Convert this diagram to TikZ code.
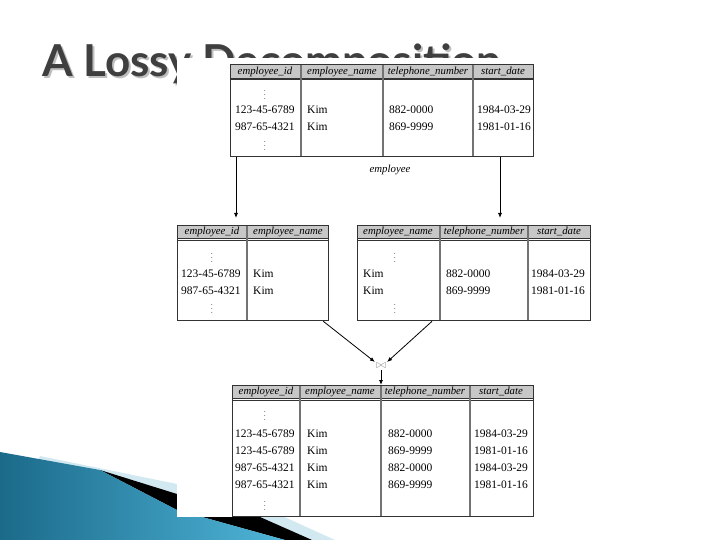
\documentclass[tikz,border=0pt]{standalone}
\usepackage{fontspec}
\newfontfamily\titlefont{Lato}
\newfontfamily\relfont{Liberation Serif}
\usepackage{tikz}
\usetikzlibrary{arrows.meta, positioning}
\definecolor{swooshdark}{HTML}{1B6A8A}
\definecolor{swooshlight}{HTML}{4FB5D8}
\definecolor{swooshpale}{HTML}{D3E9F1}
\definecolor{titlegray}{HTML}{3F3F3F}
\tikzset{
  relbox/.style={draw=black!80, line width=1.3pt, inner sep=0pt, anchor=north west},
  headbar/.style={fill=black!22, draw=black!80, line width=0.9pt},
  colline/.style={draw=black!55, line width=1.2pt},
  headtext/.style={font=\relfont\itshape\fontsize{10.8}{12}\selectfont, inner sep=0pt},
  celltext/.style={font=\relfont\fontsize{11.5}{13}\selectfont, anchor=west, inner sep=0pt},
  vdots/.style={font=\fontsize{9}{10}\selectfont, inner sep=0pt},
  arrow/.style={-{Latex[length=5pt, width=4pt]}, line width=0.8pt},
}

\begin{document}
\begin{tikzpicture}[x=1pt, y=-1pt]
  \useasboundingbox (0,0) rectangle (720,540);

  % slide swoosh, bottom left
  \fill[swooshpale] (40,456) -- (177,484) -- (280,515) -- (335,540) -- (0,540) -- cycle;
  \fill[black] (100,470) -- (177,494) -- (260,517) -- (312,540) -- (285,540) -- (177,510) -- cycle;
  \shade[left color=swooshdark, right color=swooshlight]
    (0,452) -- (100,470) -- (177,510) -- (285,540) -- (0,540) -- cycle;

  % title
  \node[anchor=base west, inner sep=0pt, text=black!25, font=\titlefont\bfseries\fontsize{44}{50}\selectfont]
    (shadow) at (44,79) {A Lossy Decomposition};
  \node[anchor=base west, inner sep=0pt, text=titlegray, font=\titlefont\bfseries\fontsize{44}{50}\selectfont]
    (title) at (42,77) {A Lossy Decomposition};

  % the picture's white area
  \fill[white] (177,58) rectangle (600,517);

  % employee
  \draw[headbar] (230,64) rectangle (533,78);
  \draw[black!80, line width=1pt] (230,80) -- (533,80);
  \foreach \x in {301,383,473} \draw[colline] (\x,64) -- (\x,156);
  \node[relbox, minimum width=303pt, minimum height=92pt] (emp) at (230,64) {};
  \foreach \x/\t [count=\i] in {265/employee\_id, 342/employee\_name, 428/telephone\_number, 503/start\_date}
    \node[headtext] (empH\i) at (\x,71.5) {\t};
  \node[vdots] (empD1) at (265,92) {$\vdots$};
  \node[vdots] (empD2) at (265,143) {$\vdots$};
  \foreach \y/\a/\b/\c/\d [count=\i] in {110/123-45-6789/Kim/882-0000/1984-03-29, 127/987-65-4321/Kim/869-9999/1981-01-16} {
    \node[celltext] (empA\i) at (235,\y) {\a};
    \node[celltext] (empB\i) at (307,\y) {\b};
    \node[celltext] (empC\i) at (389,\y) {\c};
    \node[celltext] (empE\i) at (477,\y) {\d};
  }
  \node[headtext] (empName) at (390,170) {employee};

  % left projection
  \draw[headbar] (177,225) rectangle (328,238);
  \draw[black!80, line width=1pt] (177,240) -- (328,240);
  \draw[colline] (247,225) -- (247,320);
  \node[relbox, minimum width=151pt, minimum height=95pt] (projA) at (177,225) {};
  \foreach \x/\t [count=\i] in {212/employee\_id, 288/employee\_name}
    \node[headtext] (projAH\i) at (\x,231.5) {\t};
  \node[vdots] (projAD1) at (212,255) {$\vdots$};
  \node[vdots] (projAD2) at (212,306) {$\vdots$};
  \foreach \y/\a [count=\i] in {274/123-45-6789, 291/987-65-4321} {
    \node[celltext] (projAA\i) at (181,\y) {\a};
    \node[celltext] (projAB\i) at (253,\y) {Kim};
  }

  % right projection
  \draw[headbar] (357,225) rectangle (590,238);
  \draw[black!80, line width=1pt] (357,240) -- (590,240);
  \foreach \x in {440,528} \draw[colline] (\x,225) -- (\x,320);
  \node[relbox, minimum width=233pt, minimum height=95pt] (projB) at (357,225) {};
  \foreach \x/\t [count=\i] in {398/employee\_name, 484/telephone\_number, 559/start\_date}
    \node[headtext] (projBH\i) at (\x,231.5) {\t};
  \node[vdots] (projBD1) at (395,255) {$\vdots$};
  \node[vdots] (projBD2) at (395,306) {$\vdots$};
  \foreach \y/\c/\d [count=\i] in {274/882-0000/1984-03-29, 291/869-9999/1981-01-16} {
    \node[celltext] (projBB\i) at (363,\y) {Kim};
    \node[celltext] (projBC\i) at (446,\y) {\c};
    \node[celltext] (projBE\i) at (531,\y) {\d};
  }

  % natural join
  \node[inner sep=1pt, text=black!45, font=\fontsize{12}{12}\selectfont] (join) at (381,366) {$\bowtie$};

  % result
  \draw[headbar] (232,385) rectangle (533,398);
  \draw[black!80, line width=1pt] (232,400) -- (533,400);
  \foreach \x in {300,381,470} \draw[colline] (\x,385) -- (\x,516);
  \node[relbox, minimum width=301pt, minimum height=131pt] (result) at (232,385) {};
  \foreach \x/\t [count=\i] in {266/employee\_id, 340/employee\_name, 425/telephone\_number, 501/start\_date}
    \node[headtext] (resH\i) at (\x,391.5) {\t};
  \node[vdots] (resD1) at (265,413) {$\vdots$};
  \node[vdots] (resD2) at (265,503) {$\vdots$};
  \foreach \y/\a/\c/\d [count=\i] in {434/123-45-6789/882-0000/1984-03-29, 451/123-45-6789/869-9999/1981-01-16,
      468/987-65-4321/882-0000/1984-03-29, 485/987-65-4321/869-9999/1981-01-16} {
    \node[celltext] (resA\i) at (235,\y) {\a};
    \node[celltext] (resB\i) at (307,\y) {Kim};
    \node[celltext] (resC\i) at (388,\y) {\c};
    \node[celltext] (resE\i) at (474,\y) {\d};
  }

  % arrows
  \coordinate (inA) at (236,218);
  \coordinate (inB) at (500,218);
  \draw[arrow] (emp.south -| inA) -- (inA);
  \draw[arrow] (emp.south -| inB) -- (inB);
  \draw[arrow] ([xshift=-6pt]projA.south east) -- (join.north west);
  \draw[arrow] ([xshift=75pt]projB.south west) -- (join.north east);
  \draw[arrow] (join.south) -- (join.south |- result.north);

\end{tikzpicture}
\end{document}
